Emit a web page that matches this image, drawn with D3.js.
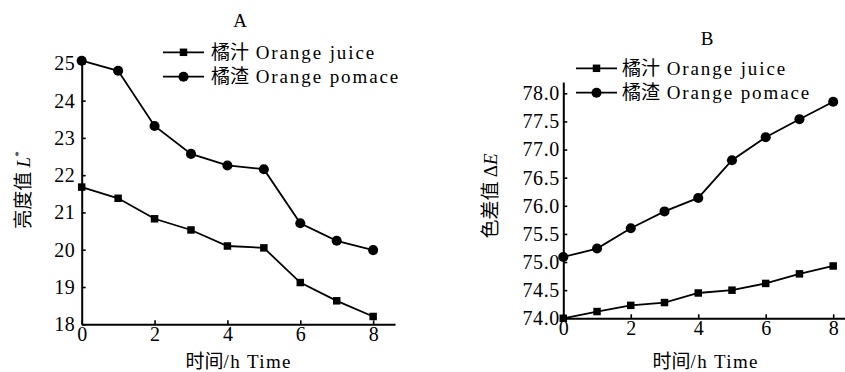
<!DOCTYPE html>
<html>
<head>
<meta charset="utf-8">
<script src="https://cdn.jsdelivr.net/npm/d3@7/dist/d3.min.js"></script>
<style>
  body { margin: 0; background: #fff; }
  svg { display: block; }
</style>
</head>
<body>
<script>
// data
const hours = [0, 1, 2, 3, 4, 5, 6, 7, 8];
const xTicks = [0, 2, 4, 6, 8];
const lightJuice = [21.68, 21.38, 20.83, 20.53, 20.10, 20.05, 19.12, 18.63, 18.21];
const lightPomace = [25.07, 24.80, 23.32, 22.57, 22.26, 22.16, 20.71, 20.24, 19.99];
const diffJuice = [74.00, 74.12, 74.23, 74.28, 74.45, 74.50, 74.62, 74.79, 74.93];
const diffPomace = [75.09, 75.24, 75.60, 75.90, 76.14, 76.81, 77.22, 77.54, 77.85];
const lightTicks = [18, 19, 20, 21, 22, 23, 24, 25];
const diffTicks = [74, 74.5, 75, 75.5, 76, 76.5, 77, 77.5, 78];
const seriesNames = ["橘汁", "橘渣"];
const seriesEnglish = ["Orange juice", "Orange pomace"];

const width = 845, height = 372;
const SERIF = "Liberation Serif";
const CJK = "Noto Sans CJK SC";

const svg = d3.select("body").append("svg")
  .attr("width", width)
  .attr("height", height);

const square = d3.symbol().type(d3.symbolSquare).size(56);
const circle = d3.symbol().type(d3.symbolCircle).size(80);

// per-glyph dx list to widen the latin text like the printed figure
const spread = (str, s) => str.split("").map((c, i) => i === 0 ? 0 : s).join(" ");

function drawPanel(cfg) {
  const x = d3.scaleLinear().domain(cfg.xDomain).range(cfg.xRange);
  const y = d3.scaleLinear().domain(cfg.yDomain).range(cfg.yRange);

  const g = svg.append("g");

  // axes, ticks inward
  const xAxis = d3.axisBottom(x)
    .tickValues(xTicks)
    .tickSizeInner(-4)
    .tickSizeOuter(0)
    .tickPadding(2)
    .tickFormat(d3.format("d"));
  const yAxis = d3.axisLeft(y)
    .tickValues(cfg.yTicks)
    .tickSizeInner(-4)
    .tickSizeOuter(0)
    .tickPadding(cfg.yPad)
    .tickFormat(cfg.yFormat);

  const gx = g.append("g")
    .attr("transform", `translate(0,${cfg.yRange[0]})`)
    .call(xAxis);
  const gy = g.append("g")
    .attr("transform", `translate(${cfg.xRange[0]},0)`)
    .call(yAxis);

  [gx, gy].forEach(a => {
    a.attr("font-family", SERIF).attr("font-size", 20);
    a.select(".domain").attr("stroke", "#000").attr("stroke-width", 2);
    a.selectAll(".tick line").attr("stroke", "#000").attr("stroke-width", 1.6);
    a.selectAll(".tick text").attr("fill", "#000");
  });
  gy.selectAll(".tick text")
    .attr("dx", function () { return spread(this.textContent, cfg.tickSpacing); });

  // lines + markers
  const line = d3.line()
    .x((d, i) => x(hours[i]))
    .y(d => y(d));

  const series = [
    { values: cfg.juice, sym: square },
    { values: cfg.pomace, sym: circle }
  ];

  series.forEach(s => {
    g.append("path")
      .datum(s.values)
      .attr("fill", "none")
      .attr("stroke", "#000")
      .attr("stroke-width", 1.8)
      .attr("d", line);
    g.append("g").selectAll("path")
      .data(s.values)
      .join("path")
      .attr("transform", (d, i) => `translate(${x(hours[i])},${y(d)})`)
      .attr("d", s.sym)
      .attr("fill", "#000");
  });

  // panel letter
  g.append("text")
    .attr("x", cfg.titlePos[0])
    .attr("y", cfg.titlePos[1])
    .attr("text-anchor", "middle")
    .attr("font-family", SERIF)
    .attr("font-size", 19)
    .text(cfg.title);

  // legend
  const leg = g.append("g").attr("transform", `translate(${cfg.legendPos[0]},${cfg.legendPos[1]})`);
  series.forEach((s, i) => {
    const row = leg.append("g").attr("transform", `translate(0,${i * 24.4})`);
    row.append("line")
      .attr("x1", 0).attr("x2", 41)
      .attr("stroke", "#000").attr("stroke-width", 1.8);
    row.append("path")
      .attr("transform", "translate(20.5,0)")
      .attr("d", s.sym)
      .attr("fill", "#000");
    const t = row.append("text")
      .attr("x", cfg.legendText)
      .attr("y", 6.5)
      .attr("font-family", SERIF)
      .attr("font-size", 19);
    t.append("tspan").attr("font-family", CJK).text(seriesNames[i]);
    const eng = " " + seriesEnglish[i];
    t.append("tspan").attr("dx", spread(eng, 1.9)).text(eng);
  });

  // x title
  const xt = g.append("text")
    .attr("x", cfg.xTitlePos[0])
    .attr("y", cfg.xTitlePos[1])
    .attr("text-anchor", "middle")
    .attr("font-family", SERIF)
    .attr("font-size", 19);
  xt.append("tspan").attr("font-family", CJK).text("时间");
  xt.append("tspan").attr("dx", spread("/h  Time", 1.4)).text("/h  Time");

  // y title
  const yt = g.append("text")
    .attr("transform", `translate(${cfg.yTitlePos[0]},${cfg.yTitlePos[1]}) rotate(-90)`)
    .attr("text-anchor", "middle")
    .attr("font-family", SERIF)
    .attr("font-size", 19);
  cfg.yTitle(yt);
}

drawPanel({
  xDomain: [0, 8.6], xRange: [81.7, 395],
  yDomain: [18, 25.07], yRange: [324.3, 60.7],
  yTicks: lightTicks, yFormat: d3.format("d"), yPad: 7, tickSpacing: 0.5,
  juice: lightJuice, pomace: lightPomace,
  title: "A", titlePos: [240, 27],
  legendPos: [163, 52.3], legendText: 48,
  xTitlePos: [238, 368],
  yTitlePos: [30, 190],
  yTitle: t => {
    t.append("tspan").attr("font-family", CJK).text("亮度值 ");
    t.append("tspan").attr("font-style", "italic").text("L");
    t.append("tspan").attr("font-size", 11).attr("dy", -8).text("*");
  }
});

drawPanel({
  xDomain: [0, 8.35], xRange: [563.3, 845],
  yDomain: [74, 78.2], yRange: [318.3, 82.05],
  yTicks: diffTicks, yFormat: d3.format(".1f"), yPad: 4, tickSpacing: 0.6,
  juice: diffJuice, pomace: diffPomace,
  title: "B", titlePos: [707, 45],
  legendPos: [576, 68.3], legendText: 46,
  xTitlePos: [705, 368],
  yTitlePos: [497, 196],
  yTitle: t => {
    t.append("tspan").attr("font-family", CJK).text("色差值 ");
    t.append("tspan").text("Δ");
    t.append("tspan").attr("font-style", "italic").text("E");
  }
});
</script>
</body>
</html>
